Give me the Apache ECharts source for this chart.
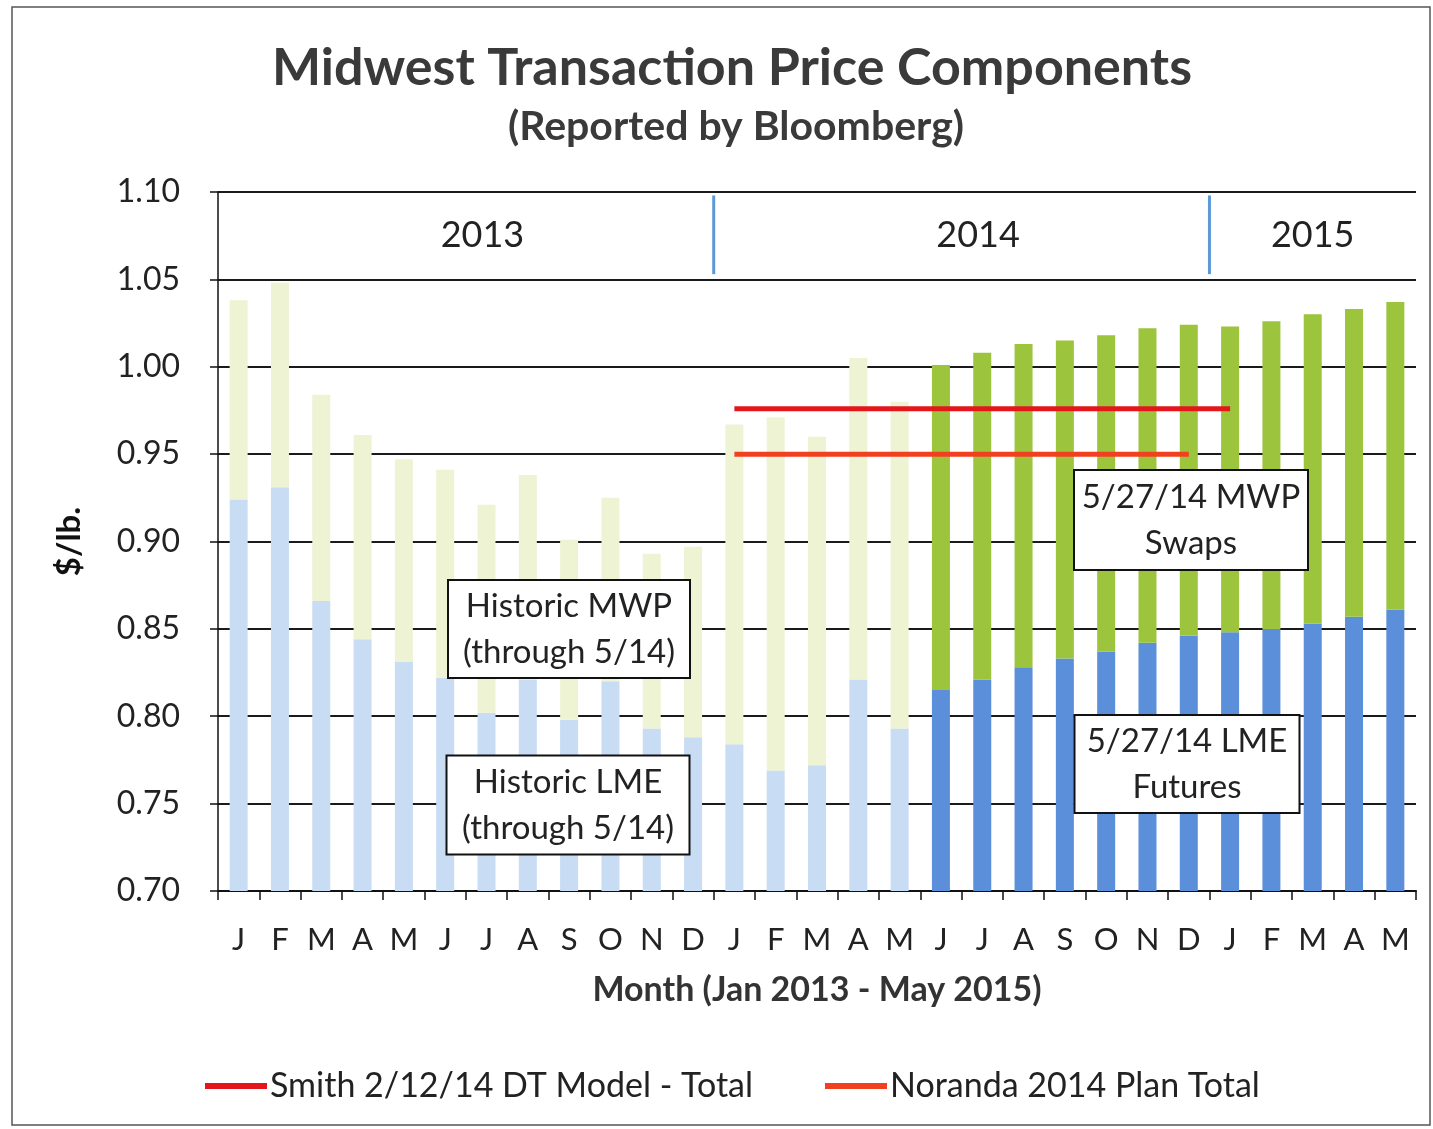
<!DOCTYPE html>
<html>
<head>
<meta charset="utf-8">
<script src="https://cdn.jsdelivr.net/npm/echarts@6/dist/echarts.min.js"></script>
<style>
html,body{margin:0;padding:0;background:#fff;}
#chart{width:1433px;height:1129px;}
</style>
</head>
<body>
<div id="chart"></div>
<script>
// ---- Data ----
const monthLabels = ['J','F','M','A','M','J','J','A','S','O','N','D',
                     'J','F','M','A','M','J','J','A','S','O','N','D',
                     'J','F','M','A','M'];
// LME component ($/lb.) – first 17 months historic, remaining 12 are 5/27/14 futures
const lmeValues = [0.924,0.931,0.866,0.844,0.831,0.822,0.802,0.821,0.798,0.820,0.793,0.788,
                   0.784,0.769,0.772,0.821,0.793,
                   0.815,0.821,0.828,0.833,0.837,0.842,0.846,0.848,0.850,0.853,0.857,0.861];
// MWP premium ($/lb.) – first 17 months historic, remaining 12 are 5/27/14 swaps
const mwpValues = [0.114,0.117,0.118,0.117,0.116,0.119,0.119,0.117,0.103,0.105,0.100,0.109,
                   0.183,0.202,0.188,0.184,0.187,
                   0.186,0.187,0.185,0.182,0.181,0.180,0.178,0.175,0.176,0.177,0.176,0.176];
const historicCount = 17;
const smithModel = ['-','-','-','-','-','-','-','-','-','-','-','-',
                    0.976,0.976,0.976,0.976,0.976,0.976,0.976,0.976,0.976,0.976,0.976,0.976,0.976,
                    '-','-','-','-'];
const norandaPlan = ['-','-','-','-','-','-','-','-','-','-','-','-',
                     0.950,0.950,0.950,0.950,0.950,0.950,0.950,0.950,0.950,0.950,0.950,0.950,
                     '-','-','-','-','-'];
const yearBands = [[0,12],[12,24],[24,29]];
const yearLabels = ['2013','2014','2015'];

const FONT = 'Lato, "Open Sans", sans-serif';
const C = {
  histLME:'#c8dcf4', histMWP:'#eef3d4', futLME:'#5b8fd9', swapMWP:'#9cc43c',
  smith:'#e3161b', noranda:'#f0401f', grid:'#1a1a1a', text:'#222'
};

const chart = echarts.init(document.getElementById('chart'), null, {renderer:'canvas'});

function annot(cx, cy, w, h, text){
  return {
    type:'group', x:cx, y:cy, z:100,
    children:[
      {type:'rect', z:100, shape:{x:-w/2, y:-h/2, width:w, height:h},
       style:{fill:'#fff', stroke:'#111', lineWidth:2}},
      {type:'text', z:101, x:0, y:0,
       style:{text:text, font:'33px ' + FONT, fill:C.text, align:'center', verticalAlign:'middle', lineHeight:46}}
    ]
  };
}

const option = {
  animation:false,
  backgroundColor:'#fff',
  grid:{left:218, right:17, top:192, bottom:238, containLabel:false},
  xAxis:[{
    type:'category', data:monthLabels,
    axisLine:{show:true, lineStyle:{color:'#111', width:2}},
    axisTick:{show:true, alignWithLabel:false, length:9, lineStyle:{color:'#111', width:1.5}},
    axisLabel:{color:C.text, fontSize:31, fontFamily:FONT, margin:33, interval:0},
    name:'Month (Jan 2013 - May 2015)', nameLocation:'middle', nameGap:82,
    nameTextStyle:{color:'#333', fontSize:34, fontWeight:'bold', fontFamily:FONT}
  },{
    type:'value', min:0, max:29, show:false
  }],
  yAxis:{
    type:'value', min:0.70, max:1.10, interval:0.05,
    axisLine:{show:true, lineStyle:{color:'#111', width:1.5}},
    axisTick:{show:true, length:8, lineStyle:{color:'#111', width:1.5}},
    splitLine:{show:true, lineStyle:{color:C.grid, width:1.8}},
    axisLabel:{color:C.text, fontSize:32, fontFamily:FONT, margin:38,
      formatter:v=>v.toFixed(2)},
    name:'$/lb.', nameLocation:'middle', nameGap:132, nameRotate:90,
    nameTextStyle:{color:'#111', fontSize:33, fontWeight:'bold', fontFamily:FONT}
  },
  legend:{
    data:['Smith 2/12/14 DT Model - Total','Noranda 2014 Plan Total'],
    left:200, top:1064, icon:'rect', itemWidth:62, itemHeight:6, itemGap:72,
    textStyle:{color:C.text, fontSize:34, fontFamily:FONT, padding:[0,0,0,-2]},
    selectedMode:false
  },
  graphic:[
    {type:'rect', shape:{x:12, y:7, width:1418, height:1118}, style:{fill:'none', stroke:'#555', lineWidth:1.5}, z:-1},
    {type:'text', x:732, y:68, style:{text:'Midwest Transaction Price Components', font:'bold 52px ' + FONT, fill:'#3a3a3a', align:'center', verticalAlign:'middle'}},
    {type:'text', x:736, y:127, style:{text:'(Reported by Bloomberg)', font:'bold 41px ' + FONT, fill:'#3a3a3a', align:'center', verticalAlign:'middle'}},
    annot(569, 629, 242, 98, 'Historic MWP\n(through 5/14)'),
    annot(568, 805, 243, 99, 'Historic LME\n(through 5/14)'),
    annot(1191, 520, 234, 100, '5/27/14 MWP\nSwaps'),
    annot(1187, 764, 225, 98, '5/27/14 LME\nFutures')
  ],
  series:[
    {
      name:'LME', type:'bar', stack:'total', barWidth:18,
      data:lmeValues,
      itemStyle:{color:p=> p.dataIndex < historicCount ? C.histLME : C.futLME}
    },
    {
      name:'MWP', type:'bar', stack:'total', barWidth:18,
      data:mwpValues,
      itemStyle:{color:p=> p.dataIndex < historicCount ? C.histMWP : C.swapMWP}
    },
    {
      name:'Smith 2/12/14 DT Model - Total', type:'line', data:smithModel,
      symbol:'none', lineStyle:{color:C.smith, width:5}, itemStyle:{color:C.smith}, z:10
    },
    {
      name:'Noranda 2014 Plan Total', type:'line', data:norandaPlan,
      symbol:'none', lineStyle:{color:C.noranda, width:5}, itemStyle:{color:C.noranda}, z:10
    },
    {
      name:'years', type:'custom', xAxisIndex:1, yAxisIndex:0, silent:true, clip:false,
      data:yearBands,
      encode:{x:[0,1]},
      renderItem:(params, api)=>{
        const s = api.value(0), e = api.value(1);
        const children = [];
        const c = api.coord([(s+e)/2 + (e-s > 6 ? 0.4 : 0), 1.075]);
        children.push({type:'text', x:c[0], y:c[1],
          style:{text:yearLabels[params.dataIndex], font:'36px ' + FONT, fill:C.text, align:'center', verticalAlign:'middle'}});
        if (s > 0) {
          const p1 = api.coord([s, 1.098]), p2 = api.coord([s, 1.053]);
          children.push({type:'line', shape:{x1:p1[0], y1:p1[1], x2:p2[0], y2:p2[1]},
            style:{stroke:'#5b9bd5', lineWidth:3}});
        }
        return {type:'group', children};
      }
    }
  ]
};
chart.setOption(option);
</script>
</body>
</html>
